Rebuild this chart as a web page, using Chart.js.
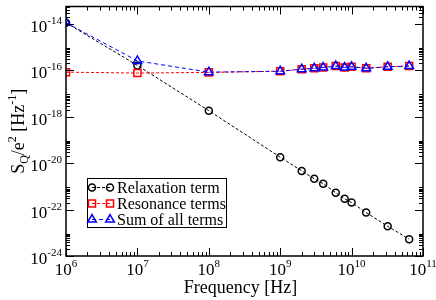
<!DOCTYPE html>
<html><head><meta charset="utf-8">
<script src="https://cdn.jsdelivr.net/npm/chart.js@4"></script>
<style>html,body{margin:0;padding:0;background:#fff}#wrap{width:436px;height:300px}</style>
</head><body><div id="wrap"><canvas id="c" width="436" height="300"></canvas></div>
<script>
// ---- data ----
const frequencies = [1e6, 1e7, 1e8, 1e9, 2e9, 3e9, 4e9, 6e9, 8e9, 1e10, 1.6e10, 3.2e10, 6.4e10];
const relaxation  = [1.1e-14, 1.6e-16, 1.8e-18, 1.8e-20, 4.6e-21, 2.1e-21, 1.3e-21, 5.3e-22, 2.9e-22, 2.0e-22, 7.4e-23, 1.9e-23, 5.3e-24];
const resonance   = [8.2e-17, 7.5e-17, 8.0e-17, 9.0e-17, 1.1e-16, 1.2e-16, 1.3e-16, 1.5e-16, 1.3e-16, 1.4e-16, 1.2e-16, 1.4e-16, 1.5e-16];
const sumAll      = [1.1e-14, 2.5e-16, 8.2e-17, 9.0e-17, 1.1e-16, 1.2e-16, 1.3e-16, 1.5e-16, 1.3e-16, 1.4e-16, 1.2e-16, 1.4e-16, 1.5e-16];
const seriesNames = ['Relaxation term', 'Resonance terms', 'Sum of all terms'];
const xTickExponents = [6, 7, 8, 9, 10, 11];
const yTickExponents = [-24, -22, -20, -18, -16, -14];
const xTitle = 'Frequency [Hz]';

const SERIF = '"Liberation Serif", "DejaVu Serif", serif';
const toPts = (ys) => frequencies.map((x, i) => ({ x: x, y: ys[i] }));

function drawPow(ctx, base, exp, x, y, align, baseSize, expSize, expRise) {
  ctx.font = baseSize + 'px ' + SERIF;
  const wb = ctx.measureText(base).width;
  ctx.font = expSize + 'px ' + SERIF;
  const we = ctx.measureText(exp).width;
  const total = wb + we;
  let x0 = align === 'center' ? x - total / 2 : (align === 'right' ? x - total : x);
  ctx.textAlign = 'left';
  ctx.textBaseline = 'alphabetic';
  ctx.font = baseSize + 'px ' + SERIF;
  ctx.fillText(base, x0, y);
  ctx.font = expSize + 'px ' + SERIF;
  ctx.fillText(exp, x0 + wb, y - expRise);
}

const axesPlugin = {
  id: 'gracestyle',
  afterDraw(chart) {
    const ctx = chart.ctx, a = chart.chartArea;
    const xs = chart.scales.x, ys = chart.scales.y;
    ctx.save();
    ctx.strokeStyle = '#000';
    ctx.fillStyle = '#000';
    ctx.lineWidth = 1.5;
    ctx.strokeRect(a.left, a.top, a.right - a.left, a.bottom - a.top);
    ctx.lineWidth = 1;
    ctx.beginPath();
    // x ticks
    for (let e = 6; e <= 11; e++) {
      const px = Math.round(xs.getPixelForValue(Math.pow(10, e))) + 0.5;
      ctx.moveTo(px, a.bottom); ctx.lineTo(px, a.bottom - 8);
      ctx.moveTo(px, a.top); ctx.lineTo(px, a.top + 8);
      if (e < 11) for (let k = 2; k <= 9; k++) {
        const p = Math.round(xs.getPixelForValue(k * Math.pow(10, e))) + 0.5;
        ctx.moveTo(p, a.bottom); ctx.lineTo(p, a.bottom - 4);
        ctx.moveTo(p, a.top); ctx.lineTo(p, a.top + 4);
      }
    }
    // y ticks
    for (const e of yTickExponents) {
      const py = Math.round(ys.getPixelForValue(Math.pow(10, e))) + 0.5;
      ctx.moveTo(a.left, py); ctx.lineTo(a.left + 8, py);
      ctx.moveTo(a.right, py); ctx.lineTo(a.right - 8, py);
      for (let k = 2; k <= 9; k++) {
        const v = k * Math.pow(10, e);
        if (v > ys.max) break;
        const p = Math.round(ys.getPixelForValue(v)) + 0.5;
        ctx.moveTo(a.left, p); ctx.lineTo(a.left + 4, p);
        ctx.moveTo(a.right, p); ctx.lineTo(a.right - 4, p);
      }
    }
    ctx.stroke();
    // x labels
    for (const e of xTickExponents) {
      const px = xs.getPixelForValue(Math.pow(10, e));
      drawPow(ctx, '10', String(e), px, 275, 'center', 17, 11, 8);
    }
    // y labels
    for (const e of yTickExponents) {
      const py = ys.getPixelForValue(Math.pow(10, e));
      drawPow(ctx, '10', String(e), 62, py + 8, 'right', 17, 11, 8);
    }
    // x title
    ctx.font = '18px ' + SERIF;
    ctx.textAlign = 'center';
    ctx.textBaseline = 'alphabetic';
    ctx.fillText(xTitle, (a.left + a.right) / 2 - 4, 293);
    // y title: S_Q/e^2 [Hz^-1]
    ctx.save();
    ctx.translate(24, (a.top + a.bottom) / 2);
    ctx.rotate(-Math.PI / 2);
    const parts = [
      ['S', 18, 0], ['Q', 12, -4], ['/e', 18, 0], ['2', 12, 8], [' [Hz', 18, 0], ['-1', 12, 8], [']', 18, 0]
    ];
    let tw = 0;
    for (const p of parts) { ctx.font = p[1] + 'px ' + SERIF; tw += ctx.measureText(p[0]).width; }
    let cx = -tw / 2;
    ctx.textAlign = 'left';
    for (const p of parts) {
      ctx.font = p[1] + 'px ' + SERIF;
      ctx.fillText(p[0], cx, -p[2]);
      cx += ctx.measureText(p[0]).width;
    }
    ctx.restore();
    // legend
    const lx = 87, ly = 178, lw = 139, lh = 49;
    ctx.fillStyle = '#fff';
    ctx.fillRect(lx, ly, lw, lh);
    ctx.strokeStyle = '#000';
    ctx.lineWidth = 1;
    ctx.strokeRect(lx + 0.5, ly + 0.5, lw, lh);
    const dsets = chart.data.datasets;
    const rows = [0, 1, 2];
    rows.forEach((i) => {
      const ds = dsets[i];
      const yy = ly + 9.5 + i * 16;
      ctx.save();
      ctx.strokeStyle = ds.borderColor;
      ctx.lineWidth = 1;
      ctx.setLineDash(ds.borderDash);
      ctx.beginPath(); ctx.moveTo(92, yy); ctx.lineTo(110, yy); ctx.stroke();
      ctx.restore();
      const opts = { pointStyle: ds.pointStyle, radius: ds.pointRadius, rotation: 0, borderWidth: ds.pointBorderWidth };
      ctx.strokeStyle = ds.pointBorderColor; ctx.lineWidth = ds.pointBorderWidth; ctx.fillStyle = 'rgba(0,0,0,0)';
      Chart.helpers.drawPoint(ctx, opts, 92, yy);
      Chart.helpers.drawPoint(ctx, opts, 110, yy);
      ctx.fillStyle = '#000';
      ctx.font = '16px ' + SERIF;
      ctx.textAlign = 'left';
      ctx.textBaseline = 'middle';
      ctx.fillText(seriesNames[i], 117, yy + 1);
    });
    ctx.restore();
  }
};

new Chart(document.getElementById('c'), {
  type: 'scatter',
  data: {
    datasets: [
      { label: seriesNames[0], data: toPts(relaxation), showLine: true, order: 3,
        borderColor: '#000000', borderWidth: 1, borderDash: [3, 2],
        pointStyle: 'circle', pointRadius: 3.5, pointBorderWidth: 1.5,
        pointBorderColor: '#000000', pointBackgroundColor: 'rgba(0,0,0,0)' },
      { label: seriesNames[1], data: toPts(resonance), showLine: true, order: 2,
        borderColor: '#ff0000', borderWidth: 1, borderDash: [3, 2],
        pointStyle: 'rect', pointRadius: 5, pointBorderWidth: 1.5,
        pointBorderColor: '#ff0000', pointBackgroundColor: 'rgba(0,0,0,0)' },
      { label: seriesNames[2], data: toPts(sumAll), showLine: true, order: 1,
        borderColor: '#0000ff', borderWidth: 1, borderDash: [4, 3],
        pointStyle: 'triangle', pointRadius: 5, pointBorderWidth: 1.5,
        pointBorderColor: '#0000ff', pointBackgroundColor: 'rgba(0,0,0,0)' }
    ]
  },
  options: {
    responsive: false, animation: false, devicePixelRatio: 1,
    layout: { padding: { left: 66, right: 13, top: 3, bottom: 44 } },
    plugins: { legend: { display: false }, tooltip: { enabled: false } },
    elements: { line: { tension: 0 } },
    scales: {
      x: { type: 'logarithmic', display: false, min: 1e6, max: 1e11 },
      y: { type: 'logarithmic', display: false, min: 1e-24, max: 5.5e-14 }
    }
  },
  plugins: [axesPlugin]
});
</script>
</body></html>
